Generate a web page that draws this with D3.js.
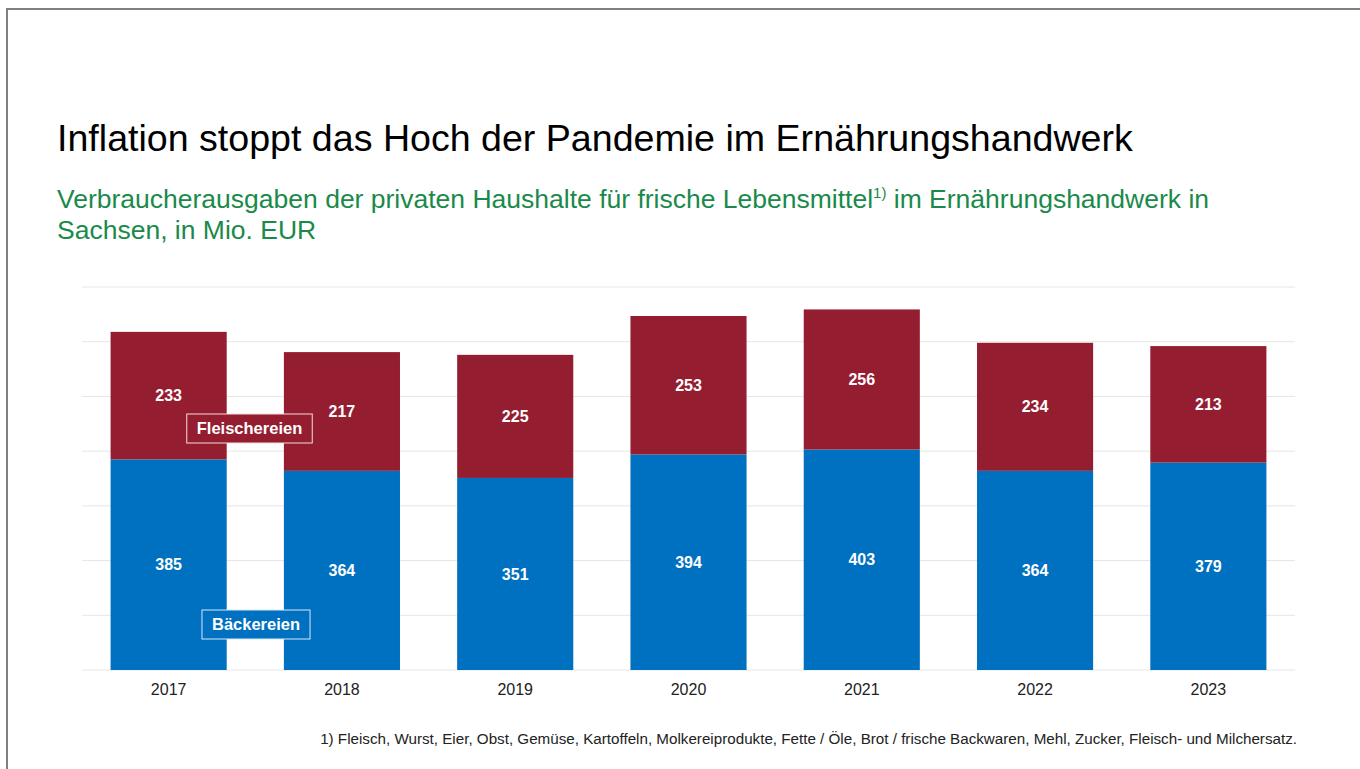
<!DOCTYPE html>
<html>
<head>
<meta charset="utf-8">
<script src="https://cdn.jsdelivr.net/npm/d3@7"></script>
<style>
  html, body { margin: 0; padding: 0; background: #fff; }
  svg { display: block; font-family: "Liberation Sans", Arial, sans-serif; }
</style>
</head>
<body>
<svg id="chart" width="1360" height="769"></svg>
<script>
// Verbraucherausgaben in Mio. EUR
const years = ["2017", "2018", "2019", "2020", "2021", "2022", "2023"];
const baeckereien = [385, 364, 351, 394, 403, 364, 379];
const fleischereien = [233, 217, 225, 253, 256, 234, 213];
const yTicks = [0, 100, 200, 300, 400, 500, 600, 700];
const seriesNames = ["Bäckereien", "Fleischereien"];

const colors = { "Bäckereien": "#0070C0", "Fleischereien": "#951D30" };

const svg = d3.select("#chart");
const W = 1360, H = 769;

// page frame (left and top edge)
svg.append("line").attr("x1", 7).attr("x2", W).attr("y1", 9).attr("y2", 9)
  .attr("stroke", "#808080").attr("stroke-width", 2);
svg.append("line").attr("x1", 7).attr("x2", 7).attr("y1", 8).attr("y2", H)
  .attr("stroke", "#808080").attr("stroke-width", 2);

// headings
svg.append("text").attr("x", 57).attr("y", 151)
  .attr("font-size", 37.6).attr("fill", "#000")
  .text("Inflation stoppt das Hoch der Pandemie im Ernährungshandwerk");

const sub = svg.append("text").attr("x", 57).attr("y", 208)
  .attr("font-size", 26.5).attr("fill", "#1A8A4A");
sub.append("tspan").text("Verbraucherausgaben der privaten Haushalte für frische Lebensmittel");
sub.append("tspan").attr("font-size", 15).attr("dy", -10).text("1)");
sub.append("tspan").attr("dy", 10).text(" im Ernährungshandwerk in");
svg.append("text").attr("x", 57).attr("y", 239)
  .attr("font-size", 26.5).attr("fill", "#1A8A4A")
  .text("Sachsen, in Mio. EUR");

// scales
const x = d3.scaleBand().domain(years).range([82, 1295])
  .paddingInner(0.33).paddingOuter(0.165);
const y = d3.scaleLinear().domain([0, 700]).range([670, 287]);

// gridlines
svg.append("g").selectAll("line").data(yTicks).join("line")
  .attr("x1", 82).attr("x2", 1295)
  .attr("y1", d => y(d)).attr("y2", d => y(d))
  .attr("stroke", "#e6e6e6").attr("stroke-width", 1);

// stacked data
const rows = years.map((yr, i) => ({ year: yr, "Bäckereien": baeckereien[i], "Fleischereien": fleischereien[i] }));
const stacked = d3.stack().keys(seriesNames)(rows);

const layers = svg.append("g").selectAll("g").data(stacked).join("g")
  .attr("fill", d => colors[d.key]);
layers.selectAll("rect").data(d => d).join("rect")
  .attr("x", d => x(d.data.year))
  .attr("width", x.bandwidth())
  .attr("y", d => y(d[1]))
  .attr("height", d => y(d[0]) - y(d[1]));

// value labels centered in each segment
layers.selectAll("text").data(d => d.map(v => ({ v, key: d.key }))).join("text")
  .attr("x", d => x(d.v.data.year) + x.bandwidth() / 2)
  .attr("y", d => (y(d.v[0]) + y(d.v[1])) / 2)
  .attr("dy", "0.35em")
  .attr("text-anchor", "middle")
  .attr("font-size", 16).attr("font-weight", "bold").attr("fill", "#fff")
  .text(d => d.v.data[d.key]);

// x axis
const xAxis = svg.append("g").attr("transform", `translate(0,${y(0)})`)
  .call(d3.axisBottom(x).tickSize(0).tickPadding(14));
xAxis.select(".domain").remove();
xAxis.selectAll("text").attr("font-size", 16).attr("fill", "#222")
  .attr("font-family", "Liberation Sans, Arial, sans-serif");

// series labels
const seriesLabels = [
  { name: "Fleischereien", cx: 249.5, cy: 428.5, stroke: "#f2dede" },
  { name: "Bäckereien", cx: 256, cy: 624.5, stroke: "#d8e8f6" }
];
seriesLabels.forEach(s => {
  const g = svg.append("g");
  const rect = g.append("rect").attr("fill", colors[s.name])
    .attr("stroke", s.stroke).attr("stroke-width", 1);
  const t = g.append("text").attr("x", s.cx).attr("y", s.cy).attr("dy", "0.35em")
    .attr("text-anchor", "middle").attr("font-size", 16.5).attr("font-weight", "bold")
    .attr("fill", "#fff").text(s.name);
  const bb = t.node().getBBox();
  rect.attr("x", bb.x - 10).attr("width", bb.width + 20)
    .attr("y", s.cy - 14.5).attr("height", 29);
});

// footnote
svg.append("text").attr("x", 1297).attr("y", 744).attr("text-anchor", "end")
  .attr("font-size", 15.2).attr("fill", "#222")
  .text("1) Fleisch, Wurst, Eier, Obst, Gemüse, Kartoffeln, Molkereiprodukte, Fette / Öle, Brot / frische Backwaren, Mehl, Zucker, Fleisch- und Milchersatz.");
</script>
</body>
</html>
